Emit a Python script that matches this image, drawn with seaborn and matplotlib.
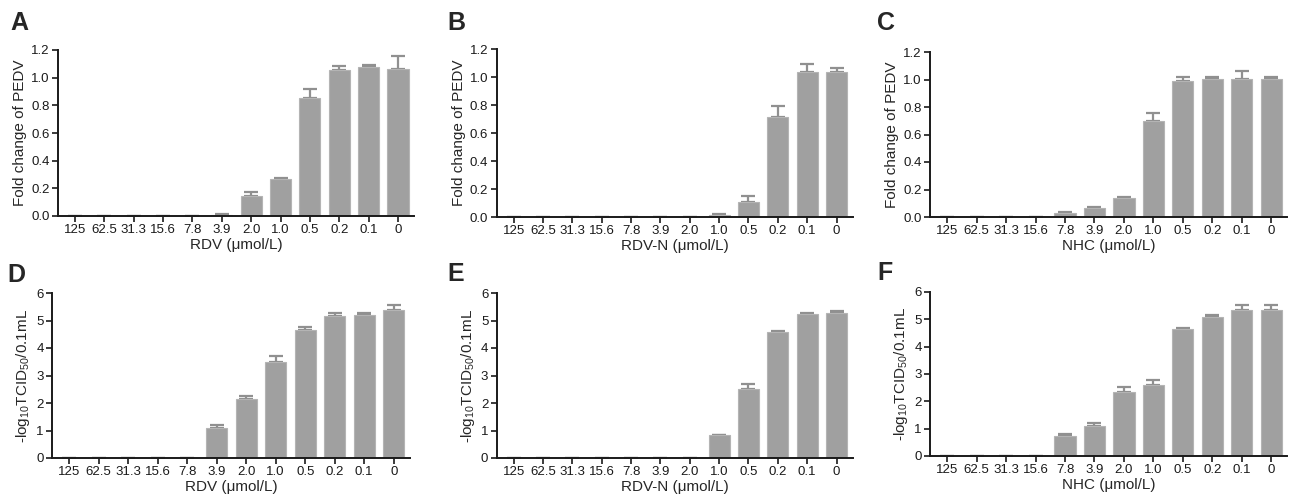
import numpy as np
import pandas as pd
import matplotlib
matplotlib.use("Agg")
import matplotlib.pyplot as plt
import seaborn as sns

concentrations = ["125", "62.5", "31.3", "15.6", "7.8", "3.9", "2.0", "1.0", "0.5", "0.2", "0.1", "0"]

rdv_fold = [0, 0, 0, 0, 0, 0.01, 0.145, 0.265, 0.85, 1.055, 1.075, 1.065]
rdv_fold_err = [0, 0, 0, 0, 0, 0.004, 0.03, 0.008, 0.07, 0.028, 0.015, 0.095]
rdvn_fold = [0, 0, 0, 0, 0, 0, 0, 0.012, 0.11, 0.715, 1.035, 1.035]
rdvn_fold_err = [0, 0, 0, 0, 0, 0, 0, 0.008, 0.04, 0.08, 0.055, 0.03]
nhc_fold = [0, 0, 0, 0, 0.03, 0.065, 0.135, 0.70, 0.99, 1.005, 1.005, 1.005]
nhc_fold_err = [0, 0, 0, 0, 0.008, 0.005, 0.008, 0.055, 0.025, 0.012, 0.06, 0.012]

rdv_tcid = [0, 0, 0, 0, 0, 1.1, 2.15, 3.5, 4.65, 5.15, 5.2, 5.38]
rdv_tcid_err = [0, 0, 0, 0, 0, 0.1, 0.12, 0.22, 0.13, 0.14, 0.08, 0.18]
rdvn_tcid = [0, 0, 0, 0, 0, 0, 0, 0.83, 2.5, 4.6, 5.25, 5.28]
rdvn_tcid_err = [0, 0, 0, 0, 0, 0, 0, 0, 0.2, 0.02, 0.04, 0.07]
nhc_tcid = [0, 0, 0, 0, 0.72, 1.1, 2.35, 2.6, 4.65, 5.08, 5.33, 5.35]
nhc_tcid_err = [0, 0, 0, 0, 0.08, 0.12, 0.18, 0.18, 0.02, 0.08, 0.2, 0.16]

sns.set_style("ticks")
plt.rcParams["font.family"] = ["Liberation Sans", "DejaVu Sans"]
plt.rcParams["mathtext.fontset"] = "custom"
plt.rcParams["mathtext.rm"] = "Liberation Sans"

BAR = "#a0a0a0"
ERR = "#909090"
AX = "#1a1a1a"

fig = plt.figure(figsize=(12.9, 5.0), dpi=100)

panels = [
    ("A", [0.045, 0.568, 0.276, 0.332], rdv_fold, rdv_fold_err, "RDV", "fold"),
    ("B", [0.385, 0.566, 0.276, 0.336], rdvn_fold, rdvn_fold_err, "RDV-N", "fold"),
    ("C", [0.721, 0.566, 0.277, 0.330], nhc_fold, nhc_fold_err, "NHC", "fold"),
    ("D", [0.0403, 0.084, 0.2775, 0.330], rdv_tcid, rdv_tcid_err, "RDV", "tcid"),
    ("E", [0.385, 0.084, 0.276, 0.330], rdvn_tcid, rdvn_tcid_err, "RDV-N", "tcid"),
    ("F", [0.721, 0.088, 0.277, 0.328], nhc_tcid, nhc_tcid_err, "NHC", "tcid"),
]

letter_pos = {"A": (0.008, 0.978), "B": (0.347, 0.978), "C": (0.680, 0.978),
              "D": (0.006, 0.474), "E": (0.347, 0.476), "F": (0.680, 0.478)}

for letter, rect, vals, errs, drug, kind in panels:
    ax = fig.add_axes(rect)
    df = pd.DataFrame({"conc": concentrations, "val": vals})
    sns.barplot(data=df, x="conc", y="val", order=concentrations, color=BAR,
                saturation=1, width=0.72, errorbar=None, ax=ax, zorder=2,
                edgecolor="#b4b4b4", linewidth=0.8)
    xs = np.arange(len(concentrations))
    ax.errorbar(xs, vals, yerr=[np.zeros(len(errs)), errs], fmt="none",
                ecolor=ERR, elinewidth=1.6, capsize=5, capthick=1.6, zorder=1)
    ax.set_xlim(-0.58, 11.55)
    if kind == "fold":
        ax.set_ylim(0, 1.2)
        ax.set_yticks(np.arange(0, 1.21, 0.2))
        ax.set_yticklabels([f"{t:.1f}" for t in np.arange(0, 1.21, 0.2)])
        ax.set_ylabel("Fold change of PEDV", fontsize=11, labelpad=3)
    else:
        ax.set_ylim(0, 6)
        ax.set_yticks(range(0, 7))
        ax.set_ylabel(r"-log$_\mathregular{10}$TCID$_\mathregular{50}$/0.1mL", fontsize=11, labelpad=3)
    ax.set_xlabel(f"{drug} (\u03bcmol/L)", fontsize=11, labelpad=1)
    ax.tick_params(axis="both", labelsize=9.5, length=4, width=1.2, color=AX,
                   labelcolor=AX, pad=2)
    for s in ["left", "bottom"]:
        ax.spines[s].set_linewidth(1.4)
        ax.spines[s].set_color(AX)
    sns.despine(ax=ax)
    lx, ly = letter_pos[letter]
    fig.text(lx, ly, letter, fontsize=18, fontweight="bold", va="top", ha="left")

fig.savefig("out.png", dpi=100)
